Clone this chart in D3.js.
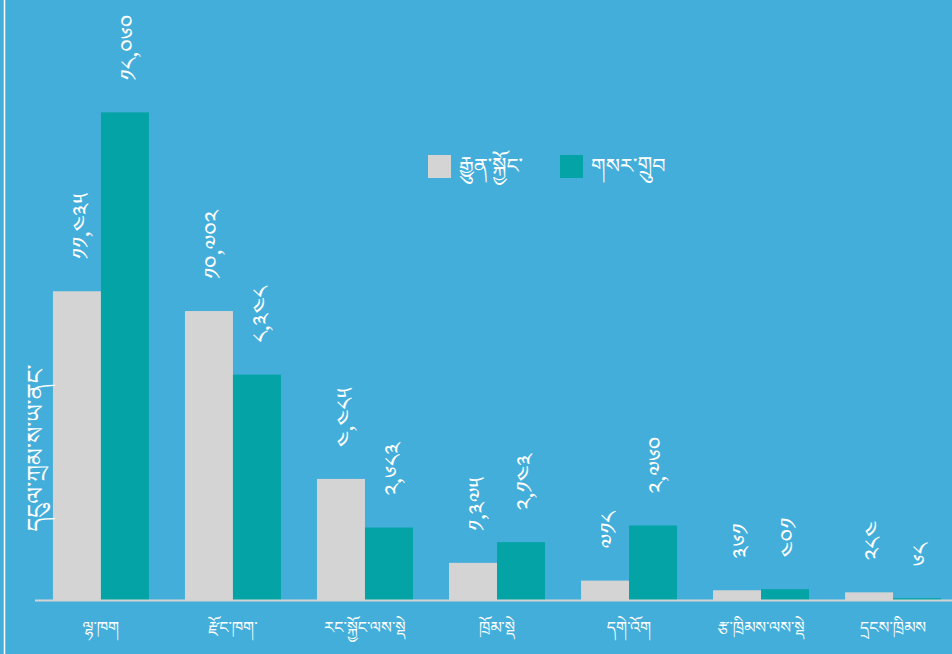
<!DOCTYPE html>
<html>
<head>
    <meta charset="UTF-8">
    <title>ཚོགས་པའི་འཆར་དངུལ</title>
    <script src="https://d3js.org/d3.v7.min.js"></script>
    <style>
        body { margin: 0; background: #44aedb; }
        svg text {
            font-family: "Noto Serif Tibetan", "Noto Sans Tibetan", "Jomolhari", "Microsoft Himalaya", "DejaVu Sans", sans-serif;
            fill: #ffffff;
        }
        .value-label { font-size: 23px; }
        .cat-label { font-size: 16px; }
        .legend-label { font-size: 21px; }
        .axis-title { font-size: 24px; }
    </style>
</head>
<body>
    <div id="chart"></div>
    <script>
        // 数据
        const categories = ["ལྷ་ཁག", "རྫོང་ཁག་", "རང་སྐྱོང་ལས་སྡེ", "ཁྲོམ་སྡེ", "དགེ་འོག", "རྩ་ཁྲིམས་ལས་སྡེ", "དྲངས་ཁྲིམས"];
        const seriesNames = ["རྒྱུན་སྐྱོང་", "གསར་གྲུབ"];
        const recurrent = [11435, 10702, 4485, 1375, 718, 361, 284];
        const capital = [18060, 8348, 2683, 2143, 2760, 401, 68];
        const colors = ["#d4d4d4", "#04a4a6"];

        const width = 952, height = 654;
        const baseY = 600;

        const tibDigits = "༠༡༢༣༤༥༦༧༨༩";
        const toTib = v => d3.format(",")(v).replace(/[0-9]/g, c => tibDigits[+c]);

        const svg = d3.select("#chart")
            .append("svg")
            .attr("width", width)
            .attr("height", height);

        svg.append("rect")
            .attr("width", width)
            .attr("height", height)
            .attr("fill", "#44aedb");

        // 左侧白线
        svg.append("line")
            .attr("x1", 4.5).attr("x2", 4.5)
            .attr("y1", 0).attr("y2", height)
            .attr("stroke", "#ffffff")
            .attr("stroke-width", 1.5);

        const x = d3.scaleBand()
            .domain(categories)
            .range([35, 959])
            .paddingInner(0.273)
            .paddingOuter(0.136);

        const xSub = d3.scaleBand()
            .domain(seriesNames)
            .range([0, x.bandwidth()]);

        const y = d3.scaleLinear()
            .domain([0, 20000])
            .range([baseY, 60]);

        const rows = categories.map((c, i) => ({
            cat: c,
            vals: [
                { s: seriesNames[0], v: recurrent[i], k: 0 },
                { s: seriesNames[1], v: capital[i], k: 1 }
            ]
        }));

        const group = svg.selectAll(".group")
            .data(rows)
            .join("g")
            .attr("class", "group")
            .attr("transform", d => `translate(${x(d.cat)},0)`);

        group.selectAll("rect")
            .data(d => d.vals)
            .join("rect")
            .attr("x", d => xSub(d.s))
            .attr("y", d => y(d.v))
            .attr("width", xSub.bandwidth())
            .attr("height", d => baseY - y(d.v))
            .attr("fill", d => colors[d.k]);

        // 数值标签（竖排）
        group.selectAll(".value-label")
            .data(d => d.vals)
            .join("text")
            .attr("class", "value-label")
            .attr("transform", d => `translate(${xSub(d.s) + xSub.bandwidth() / 2 + 4},${y(d.v) - 32}) rotate(-90)`)
            .attr("dy", "0.35em")
            .attr("text-anchor", "start")
            .text(d => toTib(d.v));

        // 基线
        svg.append("line")
            .attr("x1", 35).attr("x2", width)
            .attr("y1", baseY + 0.5).attr("y2", baseY + 0.5)
            .attr("stroke", "#d3d3d3")
            .attr("stroke-width", 2);

        // 类别标签
        svg.selectAll(".cat-label")
            .data(categories)
            .join("text")
            .attr("class", "cat-label")
            .attr("x", d => x(d) + x.bandwidth() / 2)
            .attr("y", 633)
            .attr("text-anchor", "middle")
            .text(d => d);

        // 图例
        const legendX = [428, 560];
        const legend = svg.selectAll(".legend")
            .data(seriesNames)
            .join("g")
            .attr("class", "legend")
            .attr("transform", (d, i) => `translate(${legendX[i]},155)`);

        legend.append("rect")
            .attr("width", 23)
            .attr("height", 23)
            .attr("fill", (d, i) => colors[i]);

        legend.append("text")
            .attr("class", "legend-label")
            .attr("x", 31)
            .attr("y", 18)
            .text(d => d);

        // 纵轴标题
        svg.append("text")
            .attr("class", "axis-title")
            .attr("transform", "translate(36,448) rotate(-90)")
            .attr("text-anchor", "middle")
            .attr("dy", "0.35em")
            .text("དངུལ་ཀྲམ་ས་ཡ་ནང་");
    </script>
</body>
</html>
